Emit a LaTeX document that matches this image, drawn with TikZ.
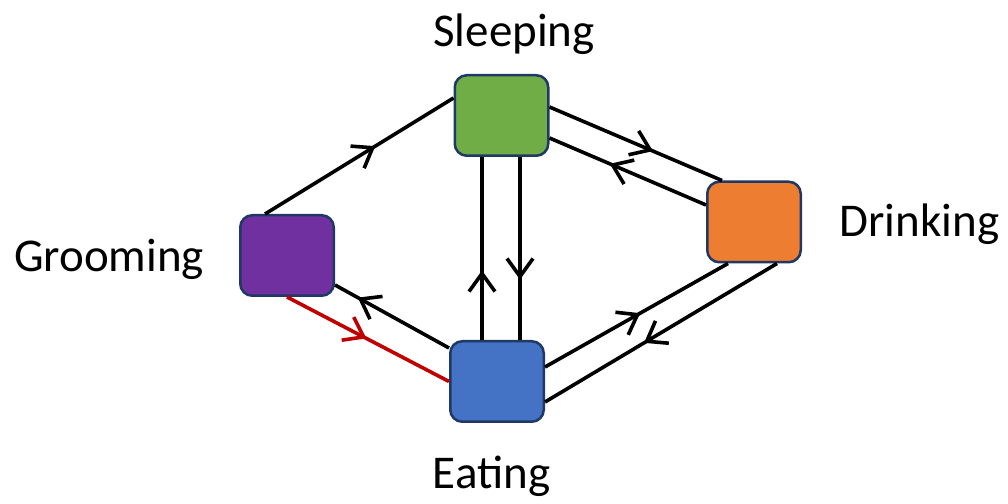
\documentclass[tikz,border=0pt]{standalone}
\usepackage{fontspec}
\setmainfont{Carlito}
\usepackage{xcolor}
\usepackage{tikz}
\usetikzlibrary{arrows.meta,positioning,calc,decorations.markings}

\definecolor{sleepgreen}{HTML}{70AD47}
\definecolor{drinkorange}{HTML}{ED7D31}
\definecolor{groompurple}{HTML}{7030A0}
\definecolor{eatblue}{HTML}{4472C4}
\definecolor{boxline}{HTML}{1F3864}
\definecolor{linkred}{HTML}{C00000}

\begin{document}
\begin{tikzpicture}[
            x=1pt, y=1pt,
            state/.style={rectangle, draw=boxline, line width=2.5pt, rounded corners=12pt, minimum width=93.5pt, minimum height=80.5pt, inner sep=0pt},
            caption/.style={font=\fontsize{47}{56}\selectfont, anchor=base, inner sep=0pt},
            link/.style={line width=3.6pt},
            mid/.style={postaction={decorate}, decoration={markings, mark=at position #1 with {\arrow{Straight Barb[length=18pt,width=26pt]}}}}
        ]
            \useasboundingbox (0,0) rectangle (1008,503);

            % states
            \node[state, fill=sleepgreen] (sleep) at (501.5,387.5) {};
            \node[state, fill=drinkorange] (drink) at (754,281) {};
            \node[state, fill=groompurple] (groom) at (287,247.5) {};
            \node[state, fill=eatblue] (eat) at (497,121.5) {};

            \node[caption] (sleeptext) at (514,456) {Sleeping};
            \node[caption] (drinktext) at (919.5,266) {Drinking};
            \node[caption] (groomtext) at (109,231) {Grooming};
            \node[caption] (eattext) at (491.5,15) {Eating};

            % transitions
            \coordinate (up) at ($(eat.north)+(-15,0)$);
            \coordinate (down) at ($(eat.north)+(23,0)$);

            \draw[link, mid=0.585] ($(groom.north)+(-22,0)$) -- ($(sleep.west)+(0,17.5)$);
            \draw[link, mid=0.6] ($(sleep.east)+(0,8.5)$) -- ($(drink.north)+(-32,0)$);
            \draw[link, mid=0.615] ($(drink.west)+(0,17)$) -- ($(sleep.east)+(0,-22.5)$);
            \draw[link, mid=0.38] (up) -- (up |- sleep.south);
            \draw[link, mid=0.67] (down |- sleep.south) -- (down);
            \draw[link, mid=0.52] ($(eat.east)+(0,14.5)$) -- ($(drink.south)+(-26,0)$);
            \draw[link, mid=0.573] ($(drink.south)+(23,0)$) -- ($(eat.east)+(0,-20.5)$);
            \draw[link, mid=0.8] ($(eat.west)+(0,33.5)$) -- ($(groom.east)+(0,-29.5)$);
            \draw[link, draw=linkred, mid=0.49] (groom.south) -- (eat.west);
        \end{tikzpicture}
\end{document}
